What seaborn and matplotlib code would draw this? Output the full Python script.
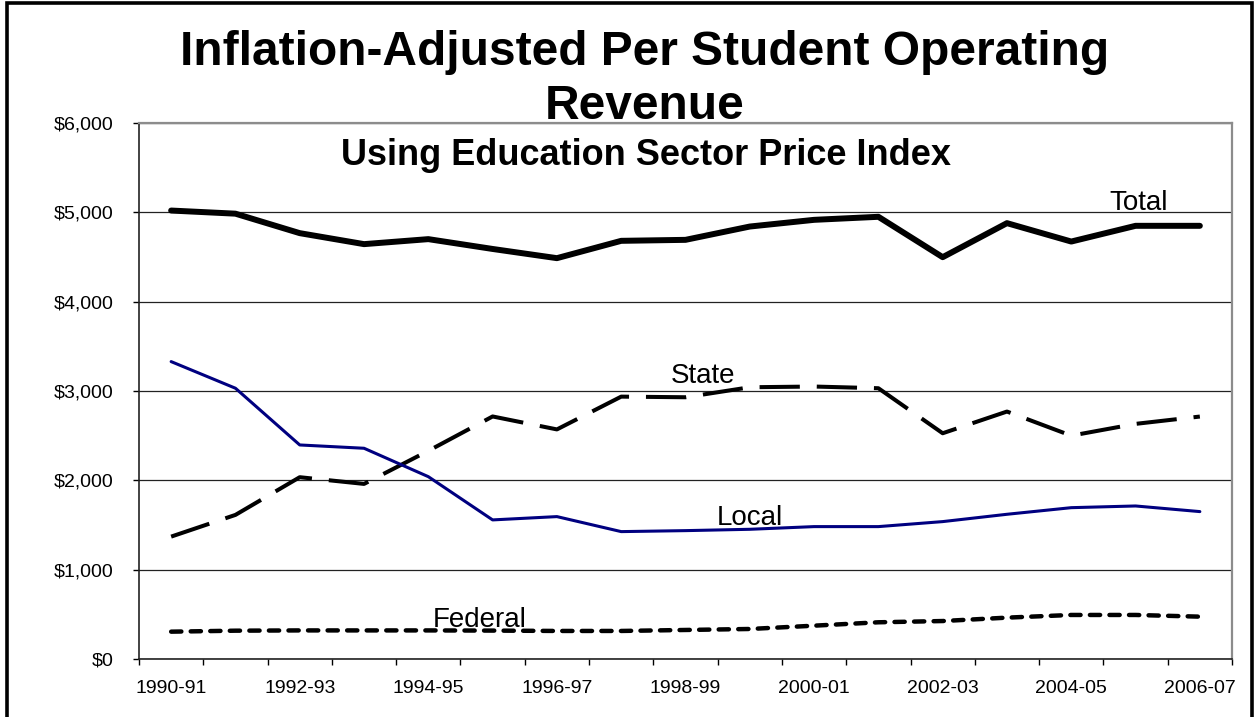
import matplotlib
matplotlib.use("Agg")
import matplotlib.pyplot as plt
from matplotlib.patches import Rectangle
from matplotlib.ticker import FuncFormatter, FixedLocator
import seaborn as sns
import pandas as pd
import numpy as np

years = ["1990-91", "1991-92", "1992-93", "1993-94", "1994-95", "1995-96",
         "1996-97", "1997-98", "1998-99", "1999-00", "2000-01", "2001-02",
         "2002-03", "2003-04", "2004-05", "2005-06", "2006-07"]
total = [5020, 4985, 4767, 4644, 4700, 4590, 4487, 4681, 4692, 4841, 4916,
         4950, 4498, 4879, 4673, 4849, 4849]
state = [1370, 1613, 2035, 1960, 2330, 2715, 2570, 2937, 2930, 3042, 3050,
         3031, 2527, 2770, 2500, 2632, 2714]
local = [3329, 3031, 2396, 2359, 2041, 1557, 1594, 1426, 1437, 1452, 1482,
         1482, 1538, 1620, 1694, 1713, 1650]
federal = [306, 317, 320, 320, 320, 318, 314, 314, 325, 336, 373, 411, 425,
           463, 493, 493, 474]
series_names = ["Total", "State", "Local", "Federal"]
tick_labels = years[::2]
y_ticks = [0, 1000, 2000, 3000, 4000, 5000, 6000]

title_line1 = "Inflation-Adjusted Per Student Operating"
title_line2 = "Revenue"
subtitle = "Using Education Sector Price Index"

sns.set_style("white")
plt.rcParams["font.family"] = ["Liberation Sans", "DejaVu Sans"]
plt.rcParams["text.color"] = "black"
plt.rcParams["xtick.color"] = "black"
plt.rcParams["ytick.color"] = "black"

W, H = 1256, 717
fig = plt.figure(figsize=(W / 100, H / 100), dpi=100)
ax = fig.add_axes([139 / W, 1 - 659 / H, (1232 - 139) / W, (659 - 123) / H])

idx = np.arange(len(years))
df = pd.DataFrame({"idx": idx, "Total": total, "State": state,
                   "Local": local, "Federal": federal})

styles = {
    "Total": dict(color="black", lw=4.3, ls="-"),
    "State": dict(color="black", lw=2.9, ls=(0, (10, 4.2))),
    "Local": dict(color="#000080", lw=2.2, ls="-"),
    "Federal": dict(color="black", lw=3.2, ls=(0, (2.3, 2.1))),
}
for name in series_names:
    st = styles[name]
    sns.lineplot(data=df, x="idx", y=name, ax=ax, color=st["color"],
                 linewidth=st["lw"], linestyle=st["ls"], legend=False,
                 zorder=3)
for line, name in zip(ax.get_lines(), series_names):
    if name == "Federal":
        line.set_dash_capstyle("round")
    line.set_solid_capstyle("round")

ax.set_xlim(-0.5, len(years) - 0.5)
ax.set_ylim(0, 6000)
ax.set_xlabel("")
ax.set_ylabel("")

ax.set_yticks(y_ticks)
ax.yaxis.set_major_formatter(FuncFormatter(lambda v, p: f"${v:,.0f}"))
ax.tick_params(axis="y", which="major", length=4.3, width=1, direction="out",
               color="black", pad=14, labelsize=14, labelcolor="black",
               left=True)

ax.set_xticks(idx[::2])
ax.set_xticklabels(tick_labels)
ax.xaxis.set_minor_locator(FixedLocator(np.arange(-0.5, len(years), 1.0)))
ax.tick_params(axis="x", which="major", length=0, pad=15, labelsize=14,
               labelcolor="black", bottom=True)
ax.tick_params(axis="x", which="minor", length=4.3, width=1, direction="out",
               color="black", bottom=True)

ax.yaxis.grid(True, color="#222222", linewidth=0.9)
ax.xaxis.grid(False)
ax.set_axisbelow(True)

for side in ["top", "right"]:
    ax.spines[side].set_color("#8c8c8c")
    ax.spines[side].set_linewidth(1.6)
for side in ["left", "bottom"]:
    ax.spines[side].set_color("#222222")
    ax.spines[side].set_linewidth(1.2)

lab_kw = dict(fontsize=20, color="black", ha="left", va="baseline", zorder=4)
ax.text(14.6, 5028, "Total", **lab_kw)
ax.text(7.77, 3094, "State", **lab_kw)
ax.text(8.49, 1500, "Local", **lab_kw)
ax.text(4.07, 355, "Federal", **lab_kw)

fig.text(645 / W, 1 - 65 / H, title_line1, ha="center", va="baseline",
         fontsize=34.5, fontweight="bold", color="black")
fig.text(645 / W, 1 - 119 / H, title_line2, ha="center", va="baseline",
         fontsize=34.5, fontweight="bold", color="black")
fig.text(646 / W, 1 - 165 / H, subtitle, ha="center", va="baseline",
         fontsize=26, fontweight="bold", color="black")

frame = Rectangle((7 / W, -0.2), (1252 - 7) / W, 1.2 - 3 / H,
                  transform=fig.transFigure, fill=False, edgecolor="black",
                  linewidth=2.6)
fig.add_artist(frame)

fig.savefig("out.png", dpi=100, facecolor="white")
